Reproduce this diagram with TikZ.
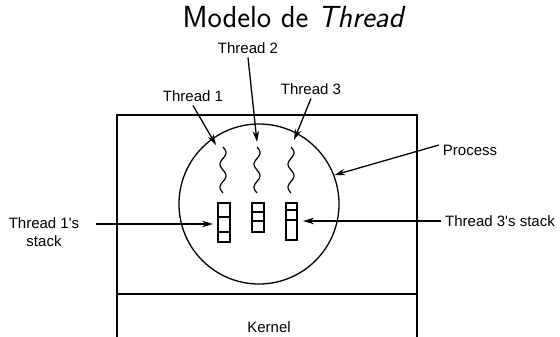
\documentclass[tikz,border=0pt]{standalone}
\usepackage{fontspec}
\newfontfamily\labfont{Liberation Sans}
\usetikzlibrary{arrows.meta}
\tikzset{
  ar/.style={-{Stealth[length=11pt,width=6.5pt]},line width=1.3pt},
  lab/.style={font=\labfont\fontsize{15}{18}\selectfont,align=center},
  wire/.style={line width=1.2pt}
}
\begin{document}
\begin{tikzpicture}[x=1pt,y=-1pt,line width=1.3pt]
\useasboundingbox (0,0) rectangle (560,337);
\node[font=\sffamily\fontsize{30.5}{34}\selectfont] (title) at (294,17.5) {Modelo de \textit{Thread}};
% process box and kernel
\draw (117,337) -- (117,115) -- (417,115) -- (417,337);
\draw (117,294) -- (417,294);
\node[lab] (kern) at (269,327) {Kernel};
\node[circle,draw,minimum size=160pt,inner sep=0pt] (circ) at (259,204) {};
% threads
\foreach \cx/\n/\tx/\ty in {223/1/216/145,257/2/257/142,291/3/294/140}{
  \draw[wire] plot[domain=0:46,samples=50,smooth] ({\cx+3*sin(15.652*\x)},{147+\x});
  \coordinate (w\n) at (\tx,\ty);
}
% stacks
\foreach \xl/\xr/\yb/\da/\db in {218/230/242/217/232,252/264/232/212/221,286/297/240/210/220}{
  \draw (\xl,203) rectangle (\xr,\yb);
  \draw (\xl,\da) -- (\xr,\da) (\xl,\db) -- (\xr,\db);
}
\coordinate (s1) at (213,224);
\coordinate (s3) at (303,221);
% labels
\node[lab] (t1) at (193,96) {Thread 1};
\node[lab] (t2) at (248,48) {Thread 2};
\node[lab] (t3) at (311,89) {Thread 3};
\node[lab] (proc) at (470,150) {Process};
\node[lab] (t1s) at (44,232) {Thread 1's\\stack};
\node[lab] (t3s) at (500,221) {Thread 3's stack};
% arrows
\draw[ar] (t1.south) -- (w1);
\draw[ar] (t2.south) -- (w2);
\draw[ar] (t3.south) -- (w3);
\draw[ar] ([yshift=5pt]proc.west) -- (circ.21);
\draw[ar] ([shift={(13pt,8pt)}]t1s.east) -- (s1);
\draw[ar] (t3s.west) -- (s3);
\end{tikzpicture}
\end{document}
